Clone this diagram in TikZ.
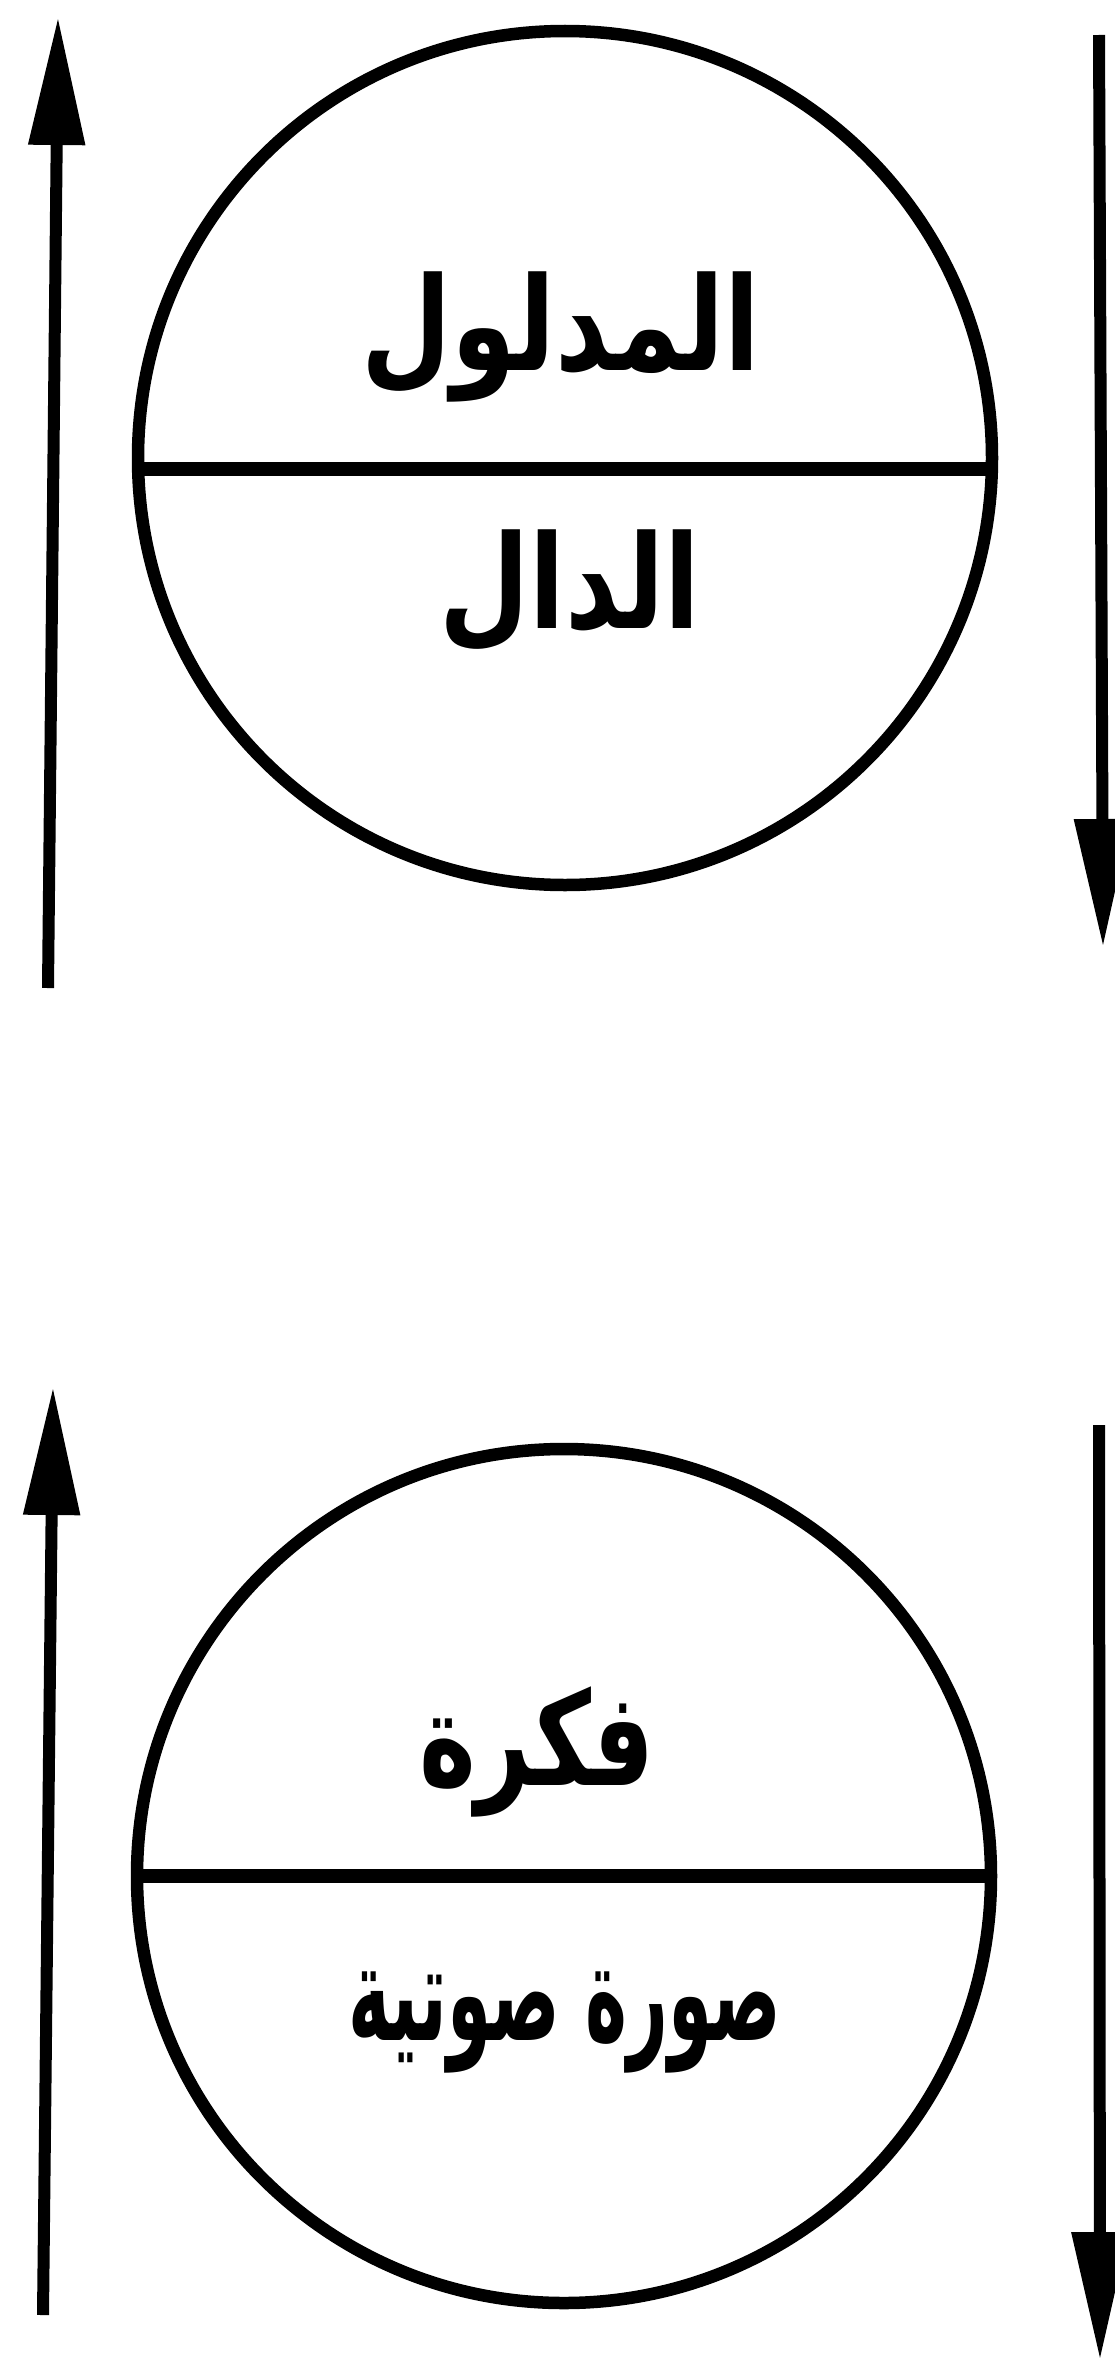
\documentclass[tikz,border=0pt]{standalone}
\usepackage{fontspec}
\newfontfamily\arabicfont[Script=Arabic]{DejaVu Sans}
\TeXXeTstate=1
\usetikzlibrary{arrows.meta}
\begin{document}
\begin{tikzpicture}[x=1pt,y=-1pt,
  ring/.style={draw, circle, line width=12.5pt, minimum size=854pt, inner sep=0pt},
  split/.style={line width=14pt},
  flow/.style={line width=12pt, -{Triangle[length=128pt,width=54pt]}},
  lbl/.style={font=\arabicfont\bfseries\fontsize{130}{150}\selectfont, anchor=base, inner sep=0pt}]
\useasboundingbox (0,0) rectangle (1115,2363);
\fill[white] (0,0) rectangle (1115,2363);
% top circle
\node[ring] (c1) at (565,458) {};
\coordinate (d1l) at (138,469);
\coordinate (d1r) at (992,469);
\draw[split] (d1l) -- (d1r);
\node[lbl] (t1) at (561,370) {\scalebox{0.8}[1]{\beginR المدلول\endR}};
\node[lbl] (t2) at (570,628) {\scalebox{0.8}[1]{\beginR الدال\endR}};
% top arrows
\coordinate (a1s) at (48,988);
\coordinate (a1e) at (58,17);
\draw[flow] (a1s) -- (a1e);
\coordinate (a2s) at (1099,35);
\coordinate (a2e) at (1103,947);
\draw[flow] (a2s) -- (a2e);
% bottom circle
\node[ring] (c2) at (564,1876) {};
\coordinate (d2l) at (134,1876);
\coordinate (d2r) at (994,1876);
\draw[split] (d2l) -- (d2r);
\node[lbl] (t3) at (537,1785) {\scalebox{0.74}[1]{\beginR فكرة\endR}};
\node[lbl,font=\arabicfont\bfseries\fontsize{134}{150}\selectfont] (t4) at (565,2040) {\scalebox{0.53}[1]{\beginR صورة صوتية\endR}};
% bottom arrows
\coordinate (b1s) at (43,2315);
\coordinate (b1e) at (53,1387);
\draw[flow] (b1s) -- (b1e);
\coordinate (b2s) at (1099,1425);
\coordinate (b2e) at (1100,2360);
\draw[flow] (b2s) -- (b2e);
\end{tikzpicture}
\end{document}
